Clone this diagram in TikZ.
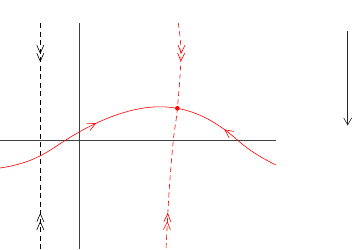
\documentclass[tikz,border=0pt]{standalone}
\usetikzlibrary{arrows.meta,decorations.markings}
\begin{document}
\begin{tikzpicture}[x=1pt,y=-1pt,
  thinline/.style={line width=0.6pt},
  barb/.tip={Straight Barb[length=8pt,width=8pt]},
  dbl/.tip={Straight Barb[length=8pt,width=7pt,sep=-1pt]Straight Barb[length=8pt,width=7pt]},
  dashline/.style={thinline,dash pattern=on 5pt off 3.5pt},
  mfwd/.style={postaction={decorate,decoration={markings,mark=at position #1 with {\arrow[solid]{dbl}}}}},
  mrev/.style={postaction={decorate,decoration={markings,mark=at position #1 with {\arrowreversed[solid]{dbl}}}}},
  sfwd/.style={postaction={decorate,decoration={markings,mark=at position #1 with {\arrow{barb}}}}},
  srev/.style={postaction={decorate,decoration={markings,mark=at position #1 with {\arrowreversed{barb}}}}}
]
\useasboundingbox (0,0) rectangle (353,249);
% named coordinates
\coordinate (axL) at (0,140.5);
\coordinate (axR) at (276,140.5);
\coordinate (ayT) at (79.3,23);
\coordinate (ayB) at (79.3,249);
\coordinate (bT) at (40.3,23);
\coordinate (bB) at (40.3,249);
\coordinate (rT) at (347.7,31);
\coordinate (rB) at (347.7,125.5);
\coordinate (eq) at (177.4,108.3);
\coordinate (cL) at (0,168);
\coordinate (c1) at (65,140.5);
\coordinate (cP) at (160,106.8);
\coordinate (c2) at (238,140.5);
\coordinate (cR) at (276,165);
% axes
\draw[thinline,black!75] (axL) -- (axR);
\draw[thinline,black!75] (ayT) -- (ayB);
% black dashed line with double arrows
\draw[dashline,black,mfwd=39pt,mrev=-36pt] (bT) -- (bB);
% red dashed manifold
\draw[dashline,red,mfwd=39pt,mrev=-36pt] plot[smooth,tension=0.6] coordinates
  {(178.3,23) (181,55) (177.4,108.3) (173.3,140.5) (169.2,190) (166,249)};
% red solid curve
\draw[thinline,red,sfwd=107pt,srev=243pt] (cL)
  .. controls (35,163) and (50,150) .. (c1)
  .. controls (80,131) and (120,106.8) .. (cP)
  .. controls (190,106.8) and (215,120) .. (c2)
  .. controls (250,151.2) and (262,158) .. (cR);
\fill[red] (eq) circle (2.3pt);
% right arrow
\draw[thinline,black!85,-{Straight Barb[length=7pt,width=8pt]}] (rT) -- (rB);
\end{tikzpicture}
\end{document}
